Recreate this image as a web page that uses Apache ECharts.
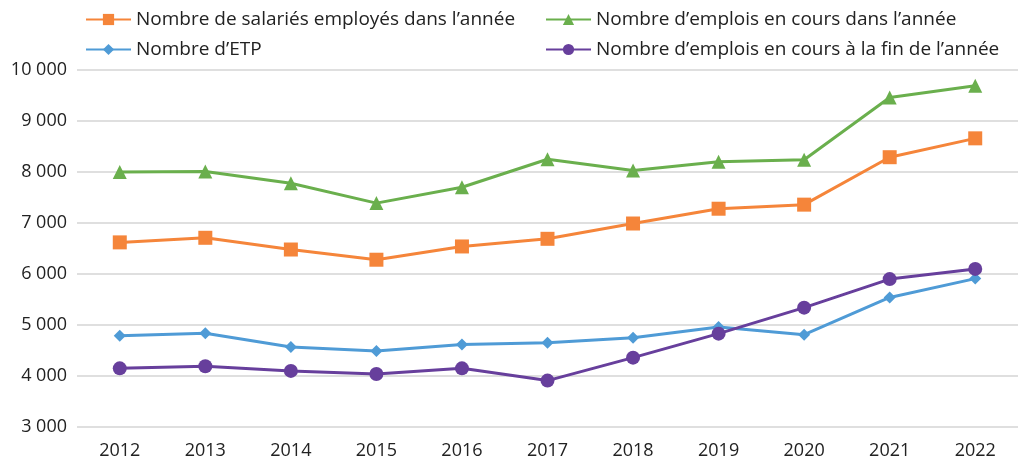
<!DOCTYPE html>
<html lang="fr">
<head>
  <meta charset="UTF-8">
  <title>Emplois</title>
  <script src="https://cdn.jsdelivr.net/npm/echarts@6/dist/echarts.min.js"></script>
  <style>
    html, body { margin: 0; padding: 0; background: #fff; }
    #chart { width: 1018px; height: 460px; }
  </style>
</head>
<body>
  <div id="chart"></div>
  <script>
    const years = ['2012', '2013', '2014', '2015', '2016', '2017', '2018', '2019', '2020', '2021', '2022']
    const salaries = [6620, 6710, 6480, 6280, 6540, 6690, 6990, 7280, 7360, 8290, 8660]
    const emploisAnnee = [8000, 8010, 7780, 7390, 7700, 8250, 8030, 8200, 8240, 9460, 9690]
    const etp = [4790, 4840, 4570, 4490, 4620, 4650, 4750, 4960, 4810, 5540, 5910]
    const emploisFin = [4150, 4190, 4100, 4040, 4150, 3910, 4360, 4830, 5340, 5900, 6100]
    const yTicks = { min: 3000, max: 10000, interval: 1000 }

    const names = [
      'Nombre de salariés employés dans l\u2019année',
      'Nombre d\u2019emplois en cours dans l\u2019année',
      'Nombre d\u2019ETP',
      'Nombre d\u2019emplois en cours à la fin de l\u2019année'
    ]
    const colors = ['#F5853A', '#6AAF4D', '#4F9BD6', '#673F9C']
    const symbols = ['rect', 'triangle', 'diamond', 'circle']
    const sizes = [14, 14, 12, 14]
    const values = [salaries, emploisAnnee, etp, emploisFin]

    const font = '"Open Sans", Lato, sans-serif'
    // legend blocks placed by hand, two rows of two
    const legendPos = [[85, 10], [545, 10], [85, 40], [545, 40]]

    const chart = echarts.init(document.getElementById('chart'))
    chart.setOption({
      animation: false,
      textStyle: { fontFamily: font },
      legend: names.map((n, i) => ({
        data: [n],
        left: legendPos[i][0],
        top: legendPos[i][1],
        padding: 0,
        itemWidth: 45,
        itemHeight: 14,
        itemGap: 4,
        textStyle: { fontSize: 19, color: '#222', fontFamily: font }
      })),
      grid: { left: 77, right: -6, top: 70, bottom: 31 },
      xAxis: {
        type: 'category',
        data: years,
        axisLine: { show: false },
        axisTick: { show: false },
        axisLabel: { fontSize: 18, color: '#222', margin: 15 }
      },
      yAxis: {
        type: 'value',
        min: yTicks.min,
        max: yTicks.max,
        interval: yTicks.interval,
        axisLabel: {
          fontSize: 18,
          color: '#222',
          margin: 10,
          formatter: v => String(v).replace(/\B(?=(\d{3})+(?!\d))/g, ' ')
        },
        splitLine: { lineStyle: { color: '#d4d4d4', width: 1.5 } }
      },
      series: names.map((n, i) => ({
        name: n,
        type: 'line',
        data: values[i],
        symbol: symbols[i],
        symbolSize: sizes[i],
        showAllSymbol: true,
        color: colors[i],
        lineStyle: { width: 3, color: colors[i] },
        itemStyle: { color: colors[i] }
      }))
    })
  </script>
</body>
</html>
